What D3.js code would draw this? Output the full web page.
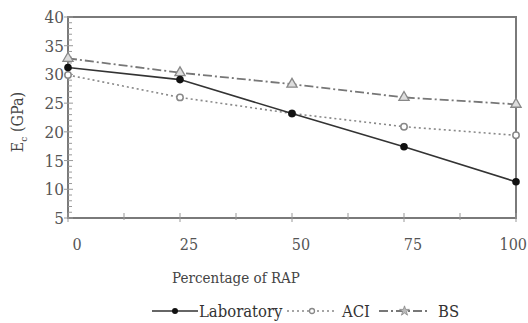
<!DOCTYPE html>
<html><head><meta charset="utf-8">
<script src="https://cdn.jsdelivr.net/npm/d3@7"></script>
<style>body{margin:0;background:#fff;} svg text{font-family:"DejaVu Serif Condensed","DejaVu Serif",serif;font-stretch:condensed;}</style>
</head><body>
<svg id="c" width="528" height="323"></svg>
<script>
const xValues = [0, 25, 50, 75, 100];
const laboratory = [31.2, 29.1, 23.2, 17.4, 11.3];
const aci = [29.9, 26.0, 23.2, 20.9, 19.4];
const bs = [32.8, 30.3, 28.3, 26.0, 24.8];
const yTicks = [5, 10, 15, 20, 25, 30, 35, 40];
const xTicks = [0, 25, 50, 75, 100];

const svg = d3.select("#c");
const L = 68, R = 516, T = 17, B = 218;
const x = d3.scaleLinear().domain([0, 100]).range([L, R]);
const y = d3.scaleLinear().domain([5, 40]).range([B, T]);
const axisCol = "#7a7a7a";

svg.append("rect").attr("x", L).attr("y", T).attr("width", R - L).attr("height", B - T)
  .attr("fill", "none").attr("stroke", axisCol).attr("stroke-width", 2);

const g = svg.append("g");
d3.range(5, 41, 1).forEach(v => {
  const major = v % 5 === 0;
  g.append("line").attr("x1", L - (major ? 4 : 0)).attr("x2", L + (major ? 5 : 4))
    .attr("y1", y(v)).attr("y2", y(v)).attr("stroke", "#999").attr("stroke-width", 1);
});
d3.range(0, 101, 12.5).forEach(v => {
  const major = v % 25 === 0;
  g.append("line").attr("x1", x(v)).attr("x2", x(v))
    .attr("y1", B - 5).attr("y2", B + (major ? 4 : 2)).attr("stroke", "#999").attr("stroke-width", 1);
});

svg.append("g").selectAll("text").data(yTicks).join("text")
  .attr("x", L - 4).attr("y", d => y(d) + 6).attr("text-anchor", "end")
  .attr("font-size", 17).attr("fill", "#555").text(d => d);

svg.append("g").selectAll("text").data(xTicks).join("text")
  .attr("x", d => d === 100 ? 527 : x(d) + 9)
  .attr("y", 250).attr("text-anchor", d => d === 100 ? "end" : "middle")
  .attr("font-size", 16).attr("fill", "#555").text(d => d);

svg.append("text").attr("x", 236).attr("y", 283).attr("text-anchor", "middle")
  .attr("font-size", 15).attr("fill", "#444").text("Percentage of RAP");
const yl = svg.append("text").attr("transform", "translate(23,122) rotate(-90)")
  .attr("text-anchor", "middle").attr("font-size", 16).attr("fill", "#444");
yl.append("tspan").text("E");
yl.append("tspan").attr("font-size", 10).attr("dy", 4).text("c");
yl.append("tspan").attr("dy", -4).text(" (GPa)");

const series = [
  {name: "Laboratory", vals: laboratory, color: "#333", dash: null, width: 1.6, marker: "dot"},
  {name: "ACI", vals: aci, color: "#888", dash: "2,3", width: 1.6, marker: "ring"},
  {name: "BS", vals: bs, color: "#777", dash: "9,3,2,3", width: 1.8, marker: "tri"}
];

const line = d3.line().x((d, i) => x(xValues[i])).y(d => y(d));

function marker(sel, type, cx, cy) {
  if (type === "dot") {
    sel.append("circle").attr("cx", cx).attr("cy", cy).attr("r", 3.8).attr("fill", "#111");
  } else if (type === "ring") {
    sel.append("circle").attr("cx", cx).attr("cy", cy).attr("r", 3.2)
      .attr("fill", "#fff").attr("stroke", "#888").attr("stroke-width", 1.5);
  } else {
    sel.append("path").attr("d", d3.symbol().type(d3.symbolTriangle).size(45)())
      .attr("transform", `translate(${cx},${cy})`)
      .attr("fill", "#ddd").attr("stroke", "#888").attr("stroke-width", 1.3);
  }
}

[series[2], series[1], series[0]].forEach(s => {
  svg.append("path").datum(s.vals).attr("d", line).attr("fill", "none")
    .attr("stroke", s.color).attr("stroke-width", s.width)
    .attr("stroke-dasharray", s.dash);
  s.vals.forEach((v, i) => marker(svg, s.marker, x(xValues[i]), y(v)));
});

const legY = 311;
const leg = [
  {s: series[0], x1: 152, x2: 198, tx: 199},
  {s: series[1], x1: 287, x2: 337, tx: 342},
  {s: series[2], x1: 379, x2: 430, tx: 438}
];
leg.forEach(o => {
  svg.append("line").attr("x1", o.x1).attr("x2", o.x2).attr("y1", legY).attr("y2", legY)
    .attr("stroke", o.s.color).attr("stroke-width", o.s.width).attr("stroke-dasharray", o.s.dash);
  const m = svg.append("g");
  const cx = (o.x1 + o.x2) / 2;
  if (o.s.marker === "dot") m.append("circle").attr("cx", cx).attr("cy", legY).attr("r", 3).attr("fill", "#111");
  else if (o.s.marker === "ring") m.append("circle").attr("cx", cx).attr("cy", legY).attr("r", 2.5).attr("fill", "#fff").attr("stroke", "#888").attr("stroke-width", 1.3);
  else m.append("path").attr("d", d3.symbol().type(d3.symbolStar).size(30)()).attr("transform", `translate(${cx},${legY})`).attr("fill", "#bbb").attr("stroke", "#888").attr("stroke-width", 0.8);
  svg.append("text").attr("x", o.tx).attr("y", legY + 6).attr("font-size", 16.5).attr("fill", "#333").text(o.s.name);
});
</script>
</body></html>
